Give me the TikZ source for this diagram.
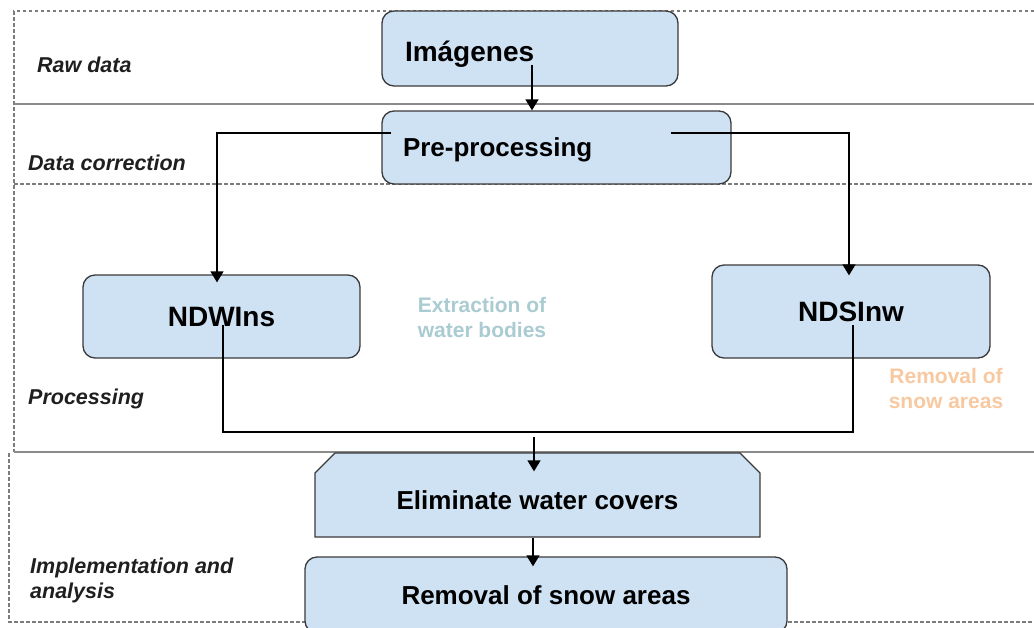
\documentclass[tikz,border=0pt]{standalone}
\usepackage{fontspec}
\setmainfont{Liberation Sans}
\usetikzlibrary{arrows.meta,shapes.misc,calc}
\definecolor{boxfill}{HTML}{CFE2F3}
\definecolor{boxline}{HTML}{3A3A3A}
\definecolor{bandline}{HTML}{8A8A8A}
\definecolor{banddashc}{HTML}{7C7C7C}
\definecolor{tealtxt}{HTML}{A9CBD1}
\definecolor{orangetxt}{HTML}{F8C9A0}
\begin{document}
\begin{tikzpicture}[x=1pt,y=-1pt,
  flowbox/.style={draw=boxline, fill=boxfill, line width=1.3pt, rounded corners=12pt,
    font=\fontsize{26}{30}\selectfont\bfseries, text height=18.6pt, text depth=0pt, inner sep=0pt},
  bigtext/.style={font=\fontsize{28}{32}\selectfont\bfseries, text height=20pt},
  bandsolid/.style={draw=bandline, line width=1.5pt},
  banddash/.style={draw=banddashc, line width=1.2pt, dash pattern=on 3.5pt off 2.5pt},
  bandlabel/.style={font=\fontsize{21.5}{25}\selectfont\bfseries\itshape, text=black!88, inner sep=0pt, align=left},
  notelabel/.style={font=\fontsize{21}{25}\selectfont\bfseries, inner sep=0pt, align=center},
  conn/.style={line width=1.4pt, black},
  arr/.style={conn, -{Triangle[width=13pt,length=11pt]}}
]
\useasboundingbox (0,0) rectangle (1034,627);

% band frames
\draw[banddash] (1034,11) -- (14,11) -- (14,452);
\draw[bandsolid] (14,104) -- (1034,104);
\draw[banddash] (14,184) -- (1034,184);
\draw[bandsolid] (14,452) -- (1034,452);
\draw[banddash] (9,453) -- (9,622) -- (1034,622);

% band labels
\node[bandlabel, anchor=base west] (lraw) at (37,72) {Raw data};
\node[bandlabel, anchor=base west] (lcorr) at (28,170) {Data correction};
\node[bandlabel, anchor=base west] (lproc) at (28,404) {Processing};
\node[bandlabel, anchor=north west] (limpl) at (30,558) {Implementation and\\analysis};

% boxes
\node[flowbox, bigtext, minimum width=296pt, minimum height=75pt, text width=250pt, inner xsep=23pt,
  align=left, text height=25pt] (img) at (530,48.5) {Imágenes};
\node[flowbox, minimum width=349pt, minimum height=73pt, text width=307pt, inner xsep=21pt,
  align=left] (pre) at (556.5,147.5) {Pre-processing};
\node[flowbox, bigtext, minimum width=277pt, minimum height=83pt] (ndwi) at (221.5,316.5) {NDWIns};
\node[flowbox, bigtext, minimum width=278pt, minimum height=93pt] (ndsi) at (851,311.5) {NDSInw};
\node[flowbox, sharp corners, chamfered rectangle, chamfered rectangle corners={north west,north east},
  chamfered rectangle xsep=10pt, chamfered rectangle ysep=10pt,
  minimum width=445pt, minimum height=84pt, text height=29.6pt] (elim) at (537.5,495) {Eliminate water covers};
\node[flowbox, minimum width=482pt, minimum height=76pt] (rem) at (546,595) {Removal of snow areas};

% notes
\node[notelabel, text=tealtxt, anchor=north] (nwater) at (482,297) {Extraction of\\water bodies};
\node[notelabel, text=orangetxt, anchor=north] (nsnow) at (946,368) {Removal of\\snow areas};

% connectors
\coordinate (join) at (534,432);
\draw[arr] ($(img.center)+(2,16)$) -- ($(img.center |- pre.north)+(2,0)$);
\draw[arr] ($(pre.west)+(10,-14.5)$) -| ($(ndwi.north)+(-4.5,8)$);
\draw[arr] ($(pre.east)+(-61,-14.5)$) -| ($(ndsi.north)+(-2,11)$);
\draw[conn] ($(ndwi.center)+(1.5,8.5)$) |- (join) -| ($(ndsi.center)+(2,13.5)$);
\draw[arr] ($(join)+(0,5)$) -- ($(join |- elim.north)+(0,19)$);
\draw[arr] ($(elim.south)+(-4.5,0)$) -- ($(elim.south |- rem.north)+(-4.5,10)$);
\end{tikzpicture}
\end{document}
